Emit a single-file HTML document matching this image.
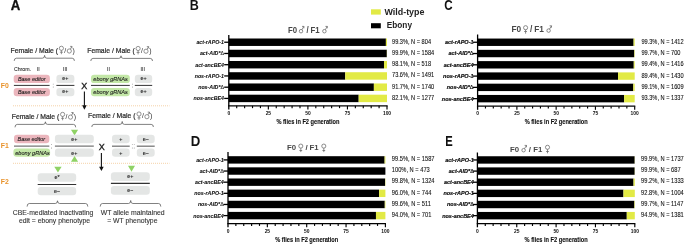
<!DOCTYPE html><html><head><meta charset="utf-8"><style>html,body{margin:0;padding:0;background:#fff;}svg{display:block;will-change:transform;}</style></head><body><svg width="685" height="244" viewBox="0 0 685 244">
<rect width="685" height="244" fill="#fff"/>
<g font-family='"Liberation Sans", sans-serif'>
<text transform="translate(10.8 10.4) scale(1.0 1.07)" font-size="13.2" font-weight="bold" font-style="normal" fill="#111" text-anchor="start" stroke="#111" stroke-width="0.3">A</text>
<text transform="translate(189.7 10.2) scale(0.95 1.05)" font-size="13.2" font-weight="bold" font-style="normal" fill="#111" text-anchor="start">B</text>
<text transform="translate(444.3 10.4) scale(0.88 1.1)" font-size="13.2" font-weight="bold" font-style="normal" fill="#111" text-anchor="start">C</text>
<text transform="translate(190.8 145.6) scale(1.0 1.07)" font-size="13.2" font-weight="bold" font-style="normal" fill="#111" text-anchor="start">D</text>
<text transform="translate(445.2 145.6) scale(0.85 1.07)" font-size="13.2" font-weight="bold" font-style="normal" fill="#111" text-anchor="start">E</text>
<rect x="371" y="9.3" width="9.8" height="5.3" fill="#e2ea45"/>
<rect x="371" y="23.2" width="9.8" height="5.1" fill="#000"/>
<text x="384.4" y="15.1" font-size="8.9" font-weight="bold" font-style="normal" fill="#222" text-anchor="start" textLength="40.1" lengthAdjust="spacingAndGlyphs">Wild-type</text>
<text x="386.8" y="28.0" font-size="8.9" font-weight="bold" font-style="normal" fill="#222" text-anchor="start" textLength="25.2" lengthAdjust="spacingAndGlyphs">Ebony</text>
<rect x="228.80" y="38.50" width="157.09" height="7.45" fill="#000"/>
<rect x="385.89" y="38.50" width="1.11" height="7.45" fill="#e2ea45"/>
<line x1="224.20" y1="42.23" x2="228.80" y2="42.23" stroke="#000" stroke-width="1.3"/>
<text transform="translate(392.0 43.68) scale(1.0 1.12)" font-size="5.65" font-weight="normal" font-style="normal" fill="#111" text-anchor="start" stroke="#111" stroke-width="0.08">99.3%, N = 804</text>
<text transform="translate(224.0 44.12) scale(1.0 1.06)" font-size="5.28" font-weight="bold" font-style="italic" fill="#111" text-anchor="end" stroke="#111" stroke-width="0.08">act-rAPO-1</text>
<rect x="228.80" y="49.74" width="158.04" height="7.45" fill="#000"/>
<rect x="386.84" y="49.74" width="0.16" height="7.45" fill="#e2ea45"/>
<line x1="224.20" y1="53.47" x2="228.80" y2="53.47" stroke="#000" stroke-width="1.3"/>
<text transform="translate(392.0 54.92) scale(1.0 1.12)" font-size="5.65" font-weight="normal" font-style="normal" fill="#111" text-anchor="start" stroke="#111" stroke-width="0.08">99.9%, N = 1584</text>
<text transform="translate(224.0 55.37) scale(1.0 1.06)" font-size="5.28" font-weight="bold" font-style="italic" fill="#111" text-anchor="end" stroke="#111" stroke-width="0.08">act-AID*<tspan font-weight="normal" font-style="normal">Δ</tspan></text>
<rect x="228.80" y="60.98" width="155.19" height="7.45" fill="#000"/>
<rect x="383.99" y="60.98" width="3.01" height="7.45" fill="#e2ea45"/>
<line x1="224.20" y1="64.70" x2="228.80" y2="64.70" stroke="#000" stroke-width="1.3"/>
<text transform="translate(392.0 66.16) scale(1.0 1.12)" font-size="5.65" font-weight="normal" font-style="normal" fill="#111" text-anchor="start" stroke="#111" stroke-width="0.08">98.1%, N = 518</text>
<text transform="translate(224.0 66.61) scale(1.0 1.06)" font-size="5.28" font-weight="bold" font-style="italic" fill="#111" text-anchor="end" stroke="#111" stroke-width="0.08">act-ancBE4</text>
<rect x="228.80" y="72.22" width="116.44" height="7.45" fill="#000"/>
<rect x="345.24" y="72.22" width="41.76" height="7.45" fill="#e2ea45"/>
<line x1="224.20" y1="75.94" x2="228.80" y2="75.94" stroke="#000" stroke-width="1.3"/>
<text transform="translate(392.0 77.39) scale(1.0 1.12)" font-size="5.65" font-weight="normal" font-style="normal" fill="#111" text-anchor="start" stroke="#111" stroke-width="0.08">73.6%, N = 1491</text>
<text transform="translate(224.0 77.84) scale(1.0 1.06)" font-size="5.28" font-weight="bold" font-style="italic" fill="#111" text-anchor="end" stroke="#111" stroke-width="0.08">nos-rAPO-1</text>
<rect x="228.80" y="83.46" width="145.07" height="7.45" fill="#000"/>
<rect x="373.87" y="83.46" width="13.13" height="7.45" fill="#e2ea45"/>
<line x1="224.20" y1="87.19" x2="228.80" y2="87.19" stroke="#000" stroke-width="1.3"/>
<text transform="translate(392.0 88.64) scale(1.0 1.12)" font-size="5.65" font-weight="normal" font-style="normal" fill="#111" text-anchor="start" stroke="#111" stroke-width="0.08">91.7%, N = 1740</text>
<text transform="translate(224.0 89.09) scale(1.0 1.06)" font-size="5.28" font-weight="bold" font-style="italic" fill="#111" text-anchor="end" stroke="#111" stroke-width="0.08">nos-AID*<tspan font-weight="normal" font-style="normal">Δ</tspan></text>
<rect x="228.80" y="94.70" width="129.88" height="7.45" fill="#000"/>
<rect x="358.68" y="94.70" width="28.32" height="7.45" fill="#e2ea45"/>
<line x1="224.20" y1="98.42" x2="228.80" y2="98.42" stroke="#000" stroke-width="1.3"/>
<text transform="translate(392.0 99.88) scale(1.0 1.12)" font-size="5.65" font-weight="normal" font-style="normal" fill="#111" text-anchor="start" stroke="#111" stroke-width="0.08">82.1%, N = 1277</text>
<text transform="translate(224.0 100.33) scale(1.0 1.06)" font-size="5.28" font-weight="bold" font-style="italic" fill="#111" text-anchor="end" stroke="#111" stroke-width="0.08">nos-ancBE4</text>
<line x1="228.80" y1="35.0" x2="228.80" y2="109.44999999999999" stroke="#000" stroke-width="1.3"/>
<line x1="228.15" y1="105.85" x2="387.60" y2="105.85" stroke="#000" stroke-width="1.3"/>
<line x1="236.71" y1="105.85" x2="236.71" y2="108.14999999999999" stroke="#000" stroke-width="1.15"/>
<line x1="244.62" y1="105.85" x2="244.62" y2="108.14999999999999" stroke="#000" stroke-width="1.15"/>
<line x1="252.53" y1="105.85" x2="252.53" y2="108.14999999999999" stroke="#000" stroke-width="1.15"/>
<line x1="260.44" y1="105.85" x2="260.44" y2="108.14999999999999" stroke="#000" stroke-width="1.15"/>
<line x1="268.35" y1="105.85" x2="268.35" y2="109.44999999999999" stroke="#000" stroke-width="1.15"/>
<line x1="276.26" y1="105.85" x2="276.26" y2="108.14999999999999" stroke="#000" stroke-width="1.15"/>
<line x1="284.17" y1="105.85" x2="284.17" y2="108.14999999999999" stroke="#000" stroke-width="1.15"/>
<line x1="292.08" y1="105.85" x2="292.08" y2="108.14999999999999" stroke="#000" stroke-width="1.15"/>
<line x1="299.99" y1="105.85" x2="299.99" y2="108.14999999999999" stroke="#000" stroke-width="1.15"/>
<line x1="307.90" y1="105.85" x2="307.90" y2="109.44999999999999" stroke="#000" stroke-width="1.15"/>
<line x1="315.81" y1="105.85" x2="315.81" y2="108.14999999999999" stroke="#000" stroke-width="1.15"/>
<line x1="323.72" y1="105.85" x2="323.72" y2="108.14999999999999" stroke="#000" stroke-width="1.15"/>
<line x1="331.63" y1="105.85" x2="331.63" y2="108.14999999999999" stroke="#000" stroke-width="1.15"/>
<line x1="339.54" y1="105.85" x2="339.54" y2="108.14999999999999" stroke="#000" stroke-width="1.15"/>
<line x1="347.45" y1="105.85" x2="347.45" y2="109.44999999999999" stroke="#000" stroke-width="1.15"/>
<line x1="355.36" y1="105.85" x2="355.36" y2="108.14999999999999" stroke="#000" stroke-width="1.15"/>
<line x1="363.27" y1="105.85" x2="363.27" y2="108.14999999999999" stroke="#000" stroke-width="1.15"/>
<line x1="371.18" y1="105.85" x2="371.18" y2="108.14999999999999" stroke="#000" stroke-width="1.15"/>
<line x1="379.09" y1="105.85" x2="379.09" y2="108.14999999999999" stroke="#000" stroke-width="1.15"/>
<line x1="387.00" y1="105.85" x2="387.00" y2="109.44999999999999" stroke="#000" stroke-width="1.15"/>
<text transform="translate(228.80 115.05) scale(0.93 1.1)" font-size="5.3" font-weight="bold" font-style="normal" fill="#111" text-anchor="middle">0</text>
<text transform="translate(268.35 115.05) scale(0.93 1.1)" font-size="5.3" font-weight="bold" font-style="normal" fill="#111" text-anchor="middle">25</text>
<text transform="translate(307.90 115.05) scale(0.93 1.1)" font-size="5.3" font-weight="bold" font-style="normal" fill="#111" text-anchor="middle">50</text>
<text transform="translate(347.45 115.05) scale(0.93 1.1)" font-size="5.3" font-weight="bold" font-style="normal" fill="#111" text-anchor="middle">75</text>
<text transform="translate(387.00 115.05) scale(0.93 1.1)" font-size="5.3" font-weight="bold" font-style="normal" fill="#111" text-anchor="middle">100</text>
<text transform="translate(307.90 123.95) scale(1.0 1.13)" font-size="5.66" font-weight="bold" font-style="normal" fill="#111" text-anchor="middle" stroke="#111" stroke-width="0.1">% flies in F2 generation</text>
<text transform="translate(288 32.6) scale(1.0 1.15)" font-size="7.8" font-weight="bold" font-style="normal" fill="#474747" text-anchor="start">F0</text>
<g fill="none" stroke="#666" stroke-width="0.75"><circle cx="301.00" cy="31.20" r="1.75"/><path d="M301.90,29.70 L303.90,26.40 M302.00,26.40 L303.90,26.40 L303.90,28.30"/></g>
<text transform="translate(306.5 32.6) scale(1.0 1.15)" font-size="7.8" font-weight="bold" font-style="normal" fill="#474747" text-anchor="start">/</text>
<text transform="translate(310.5 32.6) scale(1.0 1.15)" font-size="7.8" font-weight="bold" font-style="normal" fill="#474747" text-anchor="start">F1</text>
<g fill="none" stroke="#666" stroke-width="0.75"><circle cx="324.40" cy="31.20" r="1.75"/><path d="M325.30,29.70 L327.30,26.40 M325.40,26.40 L327.30,26.40 L327.30,28.30"/></g>
<rect x="477.60" y="38.55" width="156.00" height="7.4" fill="#000"/>
<rect x="633.60" y="38.55" width="1.10" height="7.4" fill="#e2ea45"/>
<line x1="473.00" y1="42.25" x2="477.60" y2="42.25" stroke="#000" stroke-width="1.3"/>
<text transform="translate(641.4 43.7) scale(1.0 1.12)" font-size="5.65" font-weight="normal" font-style="normal" fill="#111" text-anchor="start" stroke="#111" stroke-width="0.08">99.3%, N = 1412</text>
<text transform="translate(473.5 44.15) scale(1.04 1.05)" font-size="5.28" font-weight="bold" font-style="italic" fill="#111" text-anchor="end" stroke="#111" stroke-width="0.18">act-rAPO-1</text>
<rect x="477.60" y="49.83" width="156.63" height="7.4" fill="#000"/>
<rect x="634.23" y="49.83" width="0.47" height="7.4" fill="#e2ea45"/>
<line x1="473.00" y1="53.53" x2="477.60" y2="53.53" stroke="#000" stroke-width="1.3"/>
<text transform="translate(641.4 54.98) scale(1.0 1.12)" font-size="5.65" font-weight="normal" font-style="normal" fill="#111" text-anchor="start" stroke="#111" stroke-width="0.08">99.7%, N = 700</text>
<text transform="translate(473.5 55.43) scale(1.04 1.05)" font-size="5.28" font-weight="bold" font-style="italic" fill="#111" text-anchor="end" stroke="#111" stroke-width="0.18">act-AID*<tspan font-weight="normal" font-style="normal">Δ</tspan></text>
<rect x="477.60" y="61.11" width="156.16" height="7.4" fill="#000"/>
<rect x="633.76" y="61.11" width="0.94" height="7.4" fill="#e2ea45"/>
<line x1="473.00" y1="64.81" x2="477.60" y2="64.81" stroke="#000" stroke-width="1.3"/>
<text transform="translate(641.4 66.26) scale(1.0 1.12)" font-size="5.65" font-weight="normal" font-style="normal" fill="#111" text-anchor="start" stroke="#111" stroke-width="0.08">99.4%, N = 1416</text>
<text transform="translate(473.5 66.71) scale(1.04 1.05)" font-size="5.28" font-weight="bold" font-style="italic" fill="#111" text-anchor="end" stroke="#111" stroke-width="0.18">act-ancBE4</text>
<rect x="477.60" y="72.39" width="140.45" height="7.4" fill="#000"/>
<rect x="618.05" y="72.39" width="16.65" height="7.4" fill="#e2ea45"/>
<line x1="473.00" y1="76.09" x2="477.60" y2="76.09" stroke="#000" stroke-width="1.3"/>
<text transform="translate(641.4 77.54) scale(1.0 1.12)" font-size="5.65" font-weight="normal" font-style="normal" fill="#111" text-anchor="start" stroke="#111" stroke-width="0.08">89.4%, N = 1430</text>
<text transform="translate(473.5 77.99) scale(1.04 1.05)" font-size="5.28" font-weight="bold" font-style="italic" fill="#111" text-anchor="end" stroke="#111" stroke-width="0.18">nos-rAPO-1</text>
<rect x="477.60" y="83.67" width="155.69" height="7.4" fill="#000"/>
<rect x="633.29" y="83.67" width="1.41" height="7.4" fill="#e2ea45"/>
<line x1="473.00" y1="87.37" x2="477.60" y2="87.37" stroke="#000" stroke-width="1.3"/>
<text transform="translate(641.4 88.82) scale(1.0 1.12)" font-size="5.65" font-weight="normal" font-style="normal" fill="#111" text-anchor="start" stroke="#111" stroke-width="0.08">99.1%, N = 1609</text>
<text transform="translate(473.5 89.27) scale(1.04 1.05)" font-size="5.28" font-weight="bold" font-style="italic" fill="#111" text-anchor="end" stroke="#111" stroke-width="0.18">nos-AID*<tspan font-weight="normal" font-style="normal">Δ</tspan></text>
<rect x="477.60" y="94.95" width="146.57" height="7.4" fill="#000"/>
<rect x="624.17" y="94.95" width="10.53" height="7.4" fill="#e2ea45"/>
<line x1="473.00" y1="98.65" x2="477.60" y2="98.65" stroke="#000" stroke-width="1.3"/>
<text transform="translate(641.4 100.1) scale(1.0 1.12)" font-size="5.65" font-weight="normal" font-style="normal" fill="#111" text-anchor="start" stroke="#111" stroke-width="0.08">93.3%, N = 1337</text>
<text transform="translate(473.5 100.55) scale(1.04 1.05)" font-size="5.28" font-weight="bold" font-style="italic" fill="#111" text-anchor="end" stroke="#111" stroke-width="0.18">nos-ancBE4</text>
<line x1="477.60" y1="34.5" x2="477.60" y2="109.8" stroke="#000" stroke-width="1.3"/>
<line x1="476.95" y1="106.2" x2="635.30" y2="106.2" stroke="#000" stroke-width="1.3"/>
<line x1="485.46" y1="106.2" x2="485.46" y2="108.5" stroke="#000" stroke-width="1.15"/>
<line x1="493.31" y1="106.2" x2="493.31" y2="108.5" stroke="#000" stroke-width="1.15"/>
<line x1="501.17" y1="106.2" x2="501.17" y2="108.5" stroke="#000" stroke-width="1.15"/>
<line x1="509.02" y1="106.2" x2="509.02" y2="108.5" stroke="#000" stroke-width="1.15"/>
<line x1="516.88" y1="106.2" x2="516.88" y2="109.8" stroke="#000" stroke-width="1.15"/>
<line x1="524.73" y1="106.2" x2="524.73" y2="108.5" stroke="#000" stroke-width="1.15"/>
<line x1="532.59" y1="106.2" x2="532.59" y2="108.5" stroke="#000" stroke-width="1.15"/>
<line x1="540.44" y1="106.2" x2="540.44" y2="108.5" stroke="#000" stroke-width="1.15"/>
<line x1="548.30" y1="106.2" x2="548.30" y2="108.5" stroke="#000" stroke-width="1.15"/>
<line x1="556.15" y1="106.2" x2="556.15" y2="109.8" stroke="#000" stroke-width="1.15"/>
<line x1="564.00" y1="106.2" x2="564.00" y2="108.5" stroke="#000" stroke-width="1.15"/>
<line x1="571.86" y1="106.2" x2="571.86" y2="108.5" stroke="#000" stroke-width="1.15"/>
<line x1="579.72" y1="106.2" x2="579.72" y2="108.5" stroke="#000" stroke-width="1.15"/>
<line x1="587.57" y1="106.2" x2="587.57" y2="108.5" stroke="#000" stroke-width="1.15"/>
<line x1="595.43" y1="106.2" x2="595.43" y2="109.8" stroke="#000" stroke-width="1.15"/>
<line x1="603.28" y1="106.2" x2="603.28" y2="108.5" stroke="#000" stroke-width="1.15"/>
<line x1="611.13" y1="106.2" x2="611.13" y2="108.5" stroke="#000" stroke-width="1.15"/>
<line x1="618.99" y1="106.2" x2="618.99" y2="108.5" stroke="#000" stroke-width="1.15"/>
<line x1="626.85" y1="106.2" x2="626.85" y2="108.5" stroke="#000" stroke-width="1.15"/>
<line x1="634.70" y1="106.2" x2="634.70" y2="109.8" stroke="#000" stroke-width="1.15"/>
<text transform="translate(477.60 115.4) scale(0.93 1.1)" font-size="5.3" font-weight="bold" font-style="normal" fill="#111" text-anchor="middle">0</text>
<text transform="translate(516.88 115.4) scale(0.93 1.1)" font-size="5.3" font-weight="bold" font-style="normal" fill="#111" text-anchor="middle">25</text>
<text transform="translate(556.15 115.4) scale(0.93 1.1)" font-size="5.3" font-weight="bold" font-style="normal" fill="#111" text-anchor="middle">50</text>
<text transform="translate(595.43 115.4) scale(0.93 1.1)" font-size="5.3" font-weight="bold" font-style="normal" fill="#111" text-anchor="middle">75</text>
<text transform="translate(634.70 115.4) scale(0.93 1.1)" font-size="5.3" font-weight="bold" font-style="normal" fill="#111" text-anchor="middle">100</text>
<text transform="translate(556.15 124.3) scale(1.0 1.13)" font-size="5.66" font-weight="bold" font-style="normal" fill="#111" text-anchor="middle" stroke="#111" stroke-width="0.1">% flies in F2 generation</text>
<text transform="translate(511.5 32.0) scale(1.0 1.08)" font-size="8.3" font-weight="bold" font-style="normal" fill="#474747" text-anchor="start">F0</text>
<g fill="none" stroke="#666" stroke-width="0.75"><circle cx="525.60" cy="27.70" r="2.05"/><path d="M525.60,29.75 L525.60,33.70 M524.20,31.50 L527.00,31.50"/></g>
<text transform="translate(530.1 32.0) scale(1.0 1.08)" font-size="8.3" font-weight="bold" font-style="normal" fill="#474747" text-anchor="start">/</text>
<text transform="translate(534.2 32.0) scale(1.0 1.08)" font-size="8.3" font-weight="bold" font-style="normal" fill="#474747" text-anchor="start">F1</text>
<g fill="none" stroke="#666" stroke-width="0.75"><circle cx="548.60" cy="30.60" r="1.75"/><path d="M549.50,29.10 L551.50,25.80 M549.60,25.80 L551.50,25.80 L551.50,27.70"/></g>
<rect x="228.00" y="156.20" width="156.61" height="7.4" fill="#000"/>
<rect x="384.61" y="156.20" width="0.79" height="7.4" fill="#e2ea45"/>
<line x1="223.40" y1="159.90" x2="228.00" y2="159.90" stroke="#000" stroke-width="1.3"/>
<text transform="translate(391.8 161.1) scale(1.0 1.12)" font-size="5.72" font-weight="normal" font-style="normal" fill="#111" text-anchor="start" stroke="#111" stroke-width="0.08">99.5%, N = 1587</text>
<text transform="translate(223.7 161.8) scale(1.0 1.06)" font-size="5.28" font-weight="bold" font-style="italic" fill="#111" text-anchor="end" stroke="#111" stroke-width="0.08">act-rAPO-1</text>
<rect x="228.00" y="167.34" width="157.40" height="7.4" fill="#000"/>
<line x1="223.40" y1="171.04" x2="228.00" y2="171.04" stroke="#000" stroke-width="1.3"/>
<text transform="translate(391.8 172.24) scale(1.0 1.12)" font-size="5.72" font-weight="normal" font-style="normal" fill="#111" text-anchor="start" stroke="#111" stroke-width="0.08">100%, N = 473</text>
<text transform="translate(223.7 172.94) scale(1.0 1.06)" font-size="5.28" font-weight="bold" font-style="italic" fill="#111" text-anchor="end" stroke="#111" stroke-width="0.08">act-AID*<tspan font-weight="normal" font-style="normal">Δ</tspan></text>
<rect x="228.00" y="178.48" width="157.09" height="7.4" fill="#000"/>
<rect x="385.09" y="178.48" width="0.31" height="7.4" fill="#e2ea45"/>
<line x1="223.40" y1="182.18" x2="228.00" y2="182.18" stroke="#000" stroke-width="1.3"/>
<text transform="translate(391.8 183.38) scale(1.0 1.12)" font-size="5.72" font-weight="normal" font-style="normal" fill="#111" text-anchor="start" stroke="#111" stroke-width="0.08">99.8%, N = 1324</text>
<text transform="translate(223.7 184.08) scale(1.0 1.06)" font-size="5.28" font-weight="bold" font-style="italic" fill="#111" text-anchor="end" stroke="#111" stroke-width="0.08">act-ancBE4</text>
<rect x="228.00" y="189.62" width="151.10" height="7.4" fill="#000"/>
<rect x="379.10" y="189.62" width="6.30" height="7.4" fill="#e2ea45"/>
<line x1="223.40" y1="193.32" x2="228.00" y2="193.32" stroke="#000" stroke-width="1.3"/>
<text transform="translate(391.8 194.52) scale(1.0 1.12)" font-size="5.72" font-weight="normal" font-style="normal" fill="#111" text-anchor="start" stroke="#111" stroke-width="0.08">96.0%, N = 744</text>
<text transform="translate(223.7 195.22) scale(1.0 1.06)" font-size="5.28" font-weight="bold" font-style="italic" fill="#111" text-anchor="end" stroke="#111" stroke-width="0.08">nos-rAPO-1</text>
<rect x="228.00" y="200.76" width="156.77" height="7.4" fill="#000"/>
<rect x="384.77" y="200.76" width="0.63" height="7.4" fill="#e2ea45"/>
<line x1="223.40" y1="204.46" x2="228.00" y2="204.46" stroke="#000" stroke-width="1.3"/>
<text transform="translate(391.8 205.66) scale(1.0 1.12)" font-size="5.72" font-weight="normal" font-style="normal" fill="#111" text-anchor="start" stroke="#111" stroke-width="0.08">99.6%, N = 511</text>
<text transform="translate(223.7 206.36) scale(1.0 1.06)" font-size="5.28" font-weight="bold" font-style="italic" fill="#111" text-anchor="end" stroke="#111" stroke-width="0.08">nos-AID*<tspan font-weight="normal" font-style="normal">Δ</tspan></text>
<rect x="228.00" y="211.90" width="147.96" height="7.4" fill="#000"/>
<rect x="375.96" y="211.90" width="9.44" height="7.4" fill="#e2ea45"/>
<line x1="223.40" y1="215.60" x2="228.00" y2="215.60" stroke="#000" stroke-width="1.3"/>
<text transform="translate(391.8 216.8) scale(1.0 1.12)" font-size="5.72" font-weight="normal" font-style="normal" fill="#111" text-anchor="start" stroke="#111" stroke-width="0.08">94.0%, N = 701</text>
<text transform="translate(223.7 217.5) scale(1.0 1.06)" font-size="5.28" font-weight="bold" font-style="italic" fill="#111" text-anchor="end" stroke="#111" stroke-width="0.08">nos-ancBE4</text>
<line x1="228.00" y1="152.0" x2="228.00" y2="227.2" stroke="#000" stroke-width="1.3"/>
<line x1="227.35" y1="223.6" x2="386.00" y2="223.6" stroke="#000" stroke-width="1.3"/>
<line x1="235.87" y1="223.6" x2="235.87" y2="225.9" stroke="#000" stroke-width="1.15"/>
<line x1="243.74" y1="223.6" x2="243.74" y2="225.9" stroke="#000" stroke-width="1.15"/>
<line x1="251.61" y1="223.6" x2="251.61" y2="225.9" stroke="#000" stroke-width="1.15"/>
<line x1="259.48" y1="223.6" x2="259.48" y2="225.9" stroke="#000" stroke-width="1.15"/>
<line x1="267.35" y1="223.6" x2="267.35" y2="227.2" stroke="#000" stroke-width="1.15"/>
<line x1="275.22" y1="223.6" x2="275.22" y2="225.9" stroke="#000" stroke-width="1.15"/>
<line x1="283.09" y1="223.6" x2="283.09" y2="225.9" stroke="#000" stroke-width="1.15"/>
<line x1="290.96" y1="223.6" x2="290.96" y2="225.9" stroke="#000" stroke-width="1.15"/>
<line x1="298.83" y1="223.6" x2="298.83" y2="225.9" stroke="#000" stroke-width="1.15"/>
<line x1="306.70" y1="223.6" x2="306.70" y2="227.2" stroke="#000" stroke-width="1.15"/>
<line x1="314.57" y1="223.6" x2="314.57" y2="225.9" stroke="#000" stroke-width="1.15"/>
<line x1="322.44" y1="223.6" x2="322.44" y2="225.9" stroke="#000" stroke-width="1.15"/>
<line x1="330.31" y1="223.6" x2="330.31" y2="225.9" stroke="#000" stroke-width="1.15"/>
<line x1="338.18" y1="223.6" x2="338.18" y2="225.9" stroke="#000" stroke-width="1.15"/>
<line x1="346.05" y1="223.6" x2="346.05" y2="227.2" stroke="#000" stroke-width="1.15"/>
<line x1="353.92" y1="223.6" x2="353.92" y2="225.9" stroke="#000" stroke-width="1.15"/>
<line x1="361.79" y1="223.6" x2="361.79" y2="225.9" stroke="#000" stroke-width="1.15"/>
<line x1="369.66" y1="223.6" x2="369.66" y2="225.9" stroke="#000" stroke-width="1.15"/>
<line x1="377.53" y1="223.6" x2="377.53" y2="225.9" stroke="#000" stroke-width="1.15"/>
<line x1="385.40" y1="223.6" x2="385.40" y2="227.2" stroke="#000" stroke-width="1.15"/>
<text transform="translate(228.00 232.8) scale(0.93 1.1)" font-size="5.3" font-weight="bold" font-style="normal" fill="#111" text-anchor="middle">0</text>
<text transform="translate(267.35 232.8) scale(0.93 1.1)" font-size="5.3" font-weight="bold" font-style="normal" fill="#111" text-anchor="middle">25</text>
<text transform="translate(306.70 232.8) scale(0.93 1.1)" font-size="5.3" font-weight="bold" font-style="normal" fill="#111" text-anchor="middle">50</text>
<text transform="translate(346.05 232.8) scale(0.93 1.1)" font-size="5.3" font-weight="bold" font-style="normal" fill="#111" text-anchor="middle">75</text>
<text transform="translate(385.40 232.8) scale(0.93 1.1)" font-size="5.3" font-weight="bold" font-style="normal" fill="#111" text-anchor="middle">100</text>
<text transform="translate(306.70 241.7) scale(1.0 1.13)" font-size="5.66" font-weight="bold" font-style="normal" fill="#111" text-anchor="middle" stroke="#111" stroke-width="0.1">% flies in F2 generation</text>
<text transform="translate(287 150.4) scale(1.0 1.03)" font-size="7.8" font-weight="bold" font-style="normal" fill="#474747" text-anchor="start">F0</text>
<g fill="none" stroke="#666" stroke-width="0.75"><circle cx="300.80" cy="146.10" r="2.05"/><path d="M300.80,148.15 L300.80,152.10 M299.40,150.50 L302.20,150.50"/></g>
<text transform="translate(305.4 150.4) scale(1.0 1.03)" font-size="7.8" font-weight="bold" font-style="normal" fill="#474747" text-anchor="start">/</text>
<text transform="translate(309.6 150.4) scale(1.0 1.03)" font-size="7.8" font-weight="bold" font-style="normal" fill="#474747" text-anchor="start">F1</text>
<g fill="none" stroke="#666" stroke-width="0.75"><circle cx="323.80" cy="146.10" r="2.05"/><path d="M323.80,148.15 L323.80,152.10 M322.40,150.50 L325.20,150.50"/></g>
<rect x="477.40" y="156.25" width="157.24" height="7.4" fill="#000"/>
<rect x="634.64" y="156.25" width="0.16" height="7.4" fill="#e2ea45"/>
<line x1="472.80" y1="159.95" x2="477.40" y2="159.95" stroke="#000" stroke-width="1.3"/>
<text transform="translate(641.1 161.15) scale(1.0 1.12)" font-size="5.72" font-weight="normal" font-style="normal" fill="#111" text-anchor="start" stroke="#111" stroke-width="0.08">99.9%, N = 1737</text>
<text transform="translate(473.8 161.85) scale(1.04 1.05)" font-size="5.28" font-weight="bold" font-style="italic" fill="#111" text-anchor="end" stroke="#111" stroke-width="0.18">act-rAPO-1</text>
<rect x="477.40" y="167.39" width="157.24" height="7.4" fill="#000"/>
<rect x="634.64" y="167.39" width="0.16" height="7.4" fill="#e2ea45"/>
<line x1="472.80" y1="171.09" x2="477.40" y2="171.09" stroke="#000" stroke-width="1.3"/>
<text transform="translate(641.1 172.29) scale(1.0 1.12)" font-size="5.72" font-weight="normal" font-style="normal" fill="#111" text-anchor="start" stroke="#111" stroke-width="0.08">99.9%, N = 687</text>
<text transform="translate(473.8 172.99) scale(1.04 1.05)" font-size="5.28" font-weight="bold" font-style="italic" fill="#111" text-anchor="end" stroke="#111" stroke-width="0.18">act-AID*<tspan font-weight="normal" font-style="normal">Δ</tspan></text>
<rect x="477.40" y="178.53" width="156.14" height="7.4" fill="#000"/>
<rect x="633.54" y="178.53" width="1.26" height="7.4" fill="#e2ea45"/>
<line x1="472.80" y1="182.23" x2="477.40" y2="182.23" stroke="#000" stroke-width="1.3"/>
<text transform="translate(641.1 183.43) scale(1.0 1.12)" font-size="5.72" font-weight="normal" font-style="normal" fill="#111" text-anchor="start" stroke="#111" stroke-width="0.08">99.2%, N = 1333</text>
<text transform="translate(473.8 184.13) scale(1.04 1.05)" font-size="5.28" font-weight="bold" font-style="italic" fill="#111" text-anchor="end" stroke="#111" stroke-width="0.18">act-ancBE4</text>
<rect x="477.40" y="189.67" width="146.07" height="7.4" fill="#000"/>
<rect x="623.47" y="189.67" width="11.33" height="7.4" fill="#e2ea45"/>
<line x1="472.80" y1="193.37" x2="477.40" y2="193.37" stroke="#000" stroke-width="1.3"/>
<text transform="translate(641.1 194.57) scale(1.0 1.12)" font-size="5.72" font-weight="normal" font-style="normal" fill="#111" text-anchor="start" stroke="#111" stroke-width="0.08">92.8%, N = 1004</text>
<text transform="translate(473.8 195.27) scale(1.04 1.05)" font-size="5.28" font-weight="bold" font-style="italic" fill="#111" text-anchor="end" stroke="#111" stroke-width="0.18">nos-rAPO-1</text>
<rect x="477.40" y="200.81" width="156.93" height="7.4" fill="#000"/>
<rect x="634.33" y="200.81" width="0.47" height="7.4" fill="#e2ea45"/>
<line x1="472.80" y1="204.51" x2="477.40" y2="204.51" stroke="#000" stroke-width="1.3"/>
<text transform="translate(641.1 205.71) scale(1.0 1.12)" font-size="5.72" font-weight="normal" font-style="normal" fill="#111" text-anchor="start" stroke="#111" stroke-width="0.08">99.7%, N = 1147</text>
<text transform="translate(473.8 206.41) scale(1.04 1.05)" font-size="5.28" font-weight="bold" font-style="italic" fill="#111" text-anchor="end" stroke="#111" stroke-width="0.18">nos-AID*<tspan font-weight="normal" font-style="normal">Δ</tspan></text>
<rect x="477.40" y="211.95" width="149.37" height="7.4" fill="#000"/>
<rect x="626.77" y="211.95" width="8.03" height="7.4" fill="#e2ea45"/>
<line x1="472.80" y1="215.65" x2="477.40" y2="215.65" stroke="#000" stroke-width="1.3"/>
<text transform="translate(641.1 216.85) scale(1.0 1.12)" font-size="5.72" font-weight="normal" font-style="normal" fill="#111" text-anchor="start" stroke="#111" stroke-width="0.08">94.9%, N = 1381</text>
<text transform="translate(473.8 217.55) scale(1.04 1.05)" font-size="5.28" font-weight="bold" font-style="italic" fill="#111" text-anchor="end" stroke="#111" stroke-width="0.18">nos-ancBE4</text>
<line x1="477.40" y1="152.5" x2="477.40" y2="227.29999999999998" stroke="#000" stroke-width="1.3"/>
<line x1="476.75" y1="223.7" x2="635.40" y2="223.7" stroke="#000" stroke-width="1.3"/>
<line x1="485.27" y1="223.7" x2="485.27" y2="226.0" stroke="#000" stroke-width="1.15"/>
<line x1="493.14" y1="223.7" x2="493.14" y2="226.0" stroke="#000" stroke-width="1.15"/>
<line x1="501.01" y1="223.7" x2="501.01" y2="226.0" stroke="#000" stroke-width="1.15"/>
<line x1="508.88" y1="223.7" x2="508.88" y2="226.0" stroke="#000" stroke-width="1.15"/>
<line x1="516.75" y1="223.7" x2="516.75" y2="227.29999999999998" stroke="#000" stroke-width="1.15"/>
<line x1="524.62" y1="223.7" x2="524.62" y2="226.0" stroke="#000" stroke-width="1.15"/>
<line x1="532.49" y1="223.7" x2="532.49" y2="226.0" stroke="#000" stroke-width="1.15"/>
<line x1="540.36" y1="223.7" x2="540.36" y2="226.0" stroke="#000" stroke-width="1.15"/>
<line x1="548.23" y1="223.7" x2="548.23" y2="226.0" stroke="#000" stroke-width="1.15"/>
<line x1="556.10" y1="223.7" x2="556.10" y2="227.29999999999998" stroke="#000" stroke-width="1.15"/>
<line x1="563.97" y1="223.7" x2="563.97" y2="226.0" stroke="#000" stroke-width="1.15"/>
<line x1="571.84" y1="223.7" x2="571.84" y2="226.0" stroke="#000" stroke-width="1.15"/>
<line x1="579.71" y1="223.7" x2="579.71" y2="226.0" stroke="#000" stroke-width="1.15"/>
<line x1="587.58" y1="223.7" x2="587.58" y2="226.0" stroke="#000" stroke-width="1.15"/>
<line x1="595.45" y1="223.7" x2="595.45" y2="227.29999999999998" stroke="#000" stroke-width="1.15"/>
<line x1="603.32" y1="223.7" x2="603.32" y2="226.0" stroke="#000" stroke-width="1.15"/>
<line x1="611.19" y1="223.7" x2="611.19" y2="226.0" stroke="#000" stroke-width="1.15"/>
<line x1="619.06" y1="223.7" x2="619.06" y2="226.0" stroke="#000" stroke-width="1.15"/>
<line x1="626.93" y1="223.7" x2="626.93" y2="226.0" stroke="#000" stroke-width="1.15"/>
<line x1="634.80" y1="223.7" x2="634.80" y2="227.29999999999998" stroke="#000" stroke-width="1.15"/>
<text transform="translate(477.40 232.9) scale(0.93 1.1)" font-size="5.3" font-weight="bold" font-style="normal" fill="#111" text-anchor="middle">0</text>
<text transform="translate(516.75 232.9) scale(0.93 1.1)" font-size="5.3" font-weight="bold" font-style="normal" fill="#111" text-anchor="middle">25</text>
<text transform="translate(556.10 232.9) scale(0.93 1.1)" font-size="5.3" font-weight="bold" font-style="normal" fill="#111" text-anchor="middle">50</text>
<text transform="translate(595.45 232.9) scale(0.93 1.1)" font-size="5.3" font-weight="bold" font-style="normal" fill="#111" text-anchor="middle">75</text>
<text transform="translate(634.80 232.9) scale(0.93 1.1)" font-size="5.3" font-weight="bold" font-style="normal" fill="#111" text-anchor="middle">100</text>
<text transform="translate(556.10 241.8) scale(1.0 1.13)" font-size="5.66" font-weight="bold" font-style="normal" fill="#111" text-anchor="middle" stroke="#111" stroke-width="0.1">% flies in F2 generation</text>
<text transform="translate(510 151.6) scale(1.0 1.03)" font-size="7.8" font-weight="bold" font-style="normal" fill="#474747" text-anchor="start">F0</text>
<g fill="none" stroke="#666" stroke-width="0.75"><circle cx="523.60" cy="150.20" r="1.75"/><path d="M524.50,148.70 L526.50,145.40 M524.60,145.40 L526.50,145.40 L526.50,147.30"/></g>
<text transform="translate(528.7 151.6) scale(1.0 1.03)" font-size="7.8" font-weight="bold" font-style="normal" fill="#474747" text-anchor="start">/</text>
<text transform="translate(533.2 151.6) scale(1.0 1.03)" font-size="7.8" font-weight="bold" font-style="normal" fill="#474747" text-anchor="start">F1</text>
<g fill="none" stroke="#666" stroke-width="0.75"><circle cx="547.50" cy="147.30" r="2.05"/><path d="M547.50,149.35 L547.50,153.30 M546.10,151.50 L548.90,151.50"/></g>
<line x1="13" y1="105.8" x2="169.5" y2="105.8" stroke="#f6d2a8" stroke-width="1" stroke-dasharray="1,1"/>
<line x1="13" y1="163.3" x2="169.5" y2="163.3" stroke="#f6d2a8" stroke-width="1" stroke-dasharray="1,1"/>
<text transform="translate(10.5 52.7) scale(1.0 1.1)" font-size="6.85" font-weight="normal" font-style="normal" fill="#2a2a2a" text-anchor="start" stroke="#2a2a2a" stroke-width="0.2">Female / Male (</text>
<g fill="none" stroke="#666" stroke-width="0.7"><circle cx="61.40" cy="48.30" r="2.10"/><path d="M61.40,50.40 L61.40,54.20 M59.90,52.20 L62.90,52.20"/></g>
<text transform="translate(64.3 52.7) scale(1.0 1.1)" font-size="6.85" font-weight="normal" font-style="normal" fill="#2a2a2a" text-anchor="start">/</text>
<g fill="none" stroke="#666" stroke-width="0.7"><circle cx="69.30" cy="51.00" r="2.10"/><path d="M70.33,49.17 L71.90,46.40 M70.10,46.40 L71.90,46.40 L71.90,48.20"/></g>
<text transform="translate(72.5 52.7) scale(1.0 1.1)" font-size="6.85" font-weight="normal" font-style="normal" fill="#2a2a2a" text-anchor="start">)</text>
<text transform="translate(87.2 52.9) scale(1.0 1.1)" font-size="6.85" font-weight="normal" font-style="normal" fill="#2a2a2a" text-anchor="start" stroke="#2a2a2a" stroke-width="0.2">Female / Male (</text>
<g fill="none" stroke="#666" stroke-width="0.7"><circle cx="138.10" cy="48.50" r="2.10"/><path d="M138.10,50.60 L138.10,54.40 M136.60,52.40 L139.60,52.40"/></g>
<text transform="translate(141.0 52.9) scale(1.0 1.1)" font-size="6.85" font-weight="normal" font-style="normal" fill="#2a2a2a" text-anchor="start">/</text>
<g fill="none" stroke="#666" stroke-width="0.7"><circle cx="146.00" cy="51.20" r="2.10"/><path d="M147.03,49.37 L148.60,46.60 M146.80,46.60 L148.60,46.60 L148.60,48.40"/></g>
<text transform="translate(149.2 52.9) scale(1.0 1.1)" font-size="6.85" font-weight="normal" font-style="normal" fill="#2a2a2a" text-anchor="start">)</text>
<path d="M14.2,60.9 Q14.2,58.2 16.4,58.2 L42.4,58.2 Q44.6,58.2 44.6,55.4 Q44.6,58.2 46.800000000000004,58.2 L72.2,58.2 Q74.4,58.2 74.4,60.9" fill="none" stroke="#4a4a4a" stroke-width="0.7"/>
<path d="M90.8,61.0 Q90.8,58.4 93.0,58.4 L118.8,58.4 Q121.0,58.4 121.0,55.8 Q121.0,58.4 123.2,58.4 L150.3,58.4 Q152.5,58.4 152.5,61.0" fill="none" stroke="#4a4a4a" stroke-width="0.7"/>
<text transform="translate(13.9 71.4) scale(1.0 1.1)" font-size="5.25" font-weight="normal" font-style="normal" fill="#333" text-anchor="start" stroke="#333" stroke-width="0.1">Chrom.</text>
<text transform="translate(36.9 71.4) scale(1.0 1.1)" font-size="5.25" font-weight="normal" font-style="normal" fill="#333" text-anchor="start" stroke="#333" stroke-width="0.1">II</text>
<text transform="translate(63.1 71.4) scale(1.0 1.1)" font-size="5.25" font-weight="normal" font-style="normal" fill="#333" text-anchor="start" stroke="#333" stroke-width="0.1">III</text>
<text transform="translate(107.0 71.4) scale(1.0 1.1)" font-size="5.25" font-weight="normal" font-style="normal" fill="#333" text-anchor="start" stroke="#333" stroke-width="0.1">II</text>
<text transform="translate(140.6 71.4) scale(1.0 1.1)" font-size="5.25" font-weight="normal" font-style="normal" fill="#333" text-anchor="start" stroke="#333" stroke-width="0.1">III</text>
<text transform="translate(0.7 87.7) scale(1.0 1.1)" font-size="6.85" font-weight="bold" font-style="normal" fill="#e8922a" text-anchor="start">F0</text>
<rect x="13.7" y="74.7" width="36.20" height="8.40" rx="3.2" fill="#ebb6bd"/>
<rect x="13.7" y="87.9" width="36.20" height="8.30" rx="3.2" fill="#ebb6bd"/>
<line x1="13.9" y1="85.4" x2="49.6" y2="85.4" stroke="#333" stroke-width="1.0"/>
<text transform="translate(17.9 80.6) scale(1.0 1.1)" font-size="5.48" font-weight="normal" font-style="italic" fill="#1a1a1a" text-anchor="start" stroke="#1a1a1a" stroke-width="0.1">Base editor</text>
<text transform="translate(17.9 93.8) scale(1.0 1.1)" font-size="5.48" font-weight="normal" font-style="italic" fill="#1a1a1a" text-anchor="start" stroke="#1a1a1a" stroke-width="0.1">Base editor</text>
<circle cx="53.2" cy="84.1" r="0.45" fill="#555"/><circle cx="53.2" cy="87.0" r="0.45" fill="#555"/>
<rect x="56.4" y="74.7" width="18.00" height="8.40" rx="3.2" fill="#e4e6e5"/>
<rect x="56.4" y="87.9" width="18.00" height="8.30" rx="3.2" fill="#e4e6e5"/>
<line x1="56.4" y1="85.4" x2="74.4" y2="85.4" stroke="#333" stroke-width="1.0"/>
<text transform="translate(65.3 80.2) scale(1.0 1.1)" font-size="5.4" font-weight="normal" font-style="normal" fill="#1a1a1a" text-anchor="middle" stroke="#1a1a1a" stroke-width="0.1">e+</text>
<text transform="translate(65.3 93.4) scale(1.0 1.1)" font-size="5.4" font-weight="normal" font-style="normal" fill="#1a1a1a" text-anchor="middle" stroke="#1a1a1a" stroke-width="0.1">e+</text>
<text x="81.3" y="88.8" font-size="9.0" font-weight="normal" font-style="normal" fill="#222" text-anchor="start" stroke="#222" stroke-width="0.35">X</text>
<line x1="84.4" y1="91.5" x2="84.4" y2="105.8" stroke="#111" stroke-width="1.1"/>
<path d="M82.10000000000001,105.3 L86.7,105.3 L84.4,109.7 Z" fill="#111"/>
<rect x="91.0" y="74.7" width="38.80" height="8.40" rx="3.2" fill="#c3e7a7"/>
<rect x="91.0" y="87.9" width="38.80" height="8.30" rx="3.2" fill="#c3e7a7"/>
<line x1="91.0" y1="85.4" x2="129.8" y2="85.4" stroke="#333" stroke-width="1.0"/>
<text transform="translate(93.3 80.8) scale(1.0 1.1)" font-size="5.62" font-weight="normal" font-style="italic" fill="#1a1a1a" text-anchor="start" stroke="#1a1a1a" stroke-width="0.1">ebony gRNAs</text>
<text transform="translate(93.3 94.0) scale(1.0 1.1)" font-size="5.62" font-weight="normal" font-style="italic" fill="#1a1a1a" text-anchor="start" stroke="#1a1a1a" stroke-width="0.1">ebony gRNAs</text>
<circle cx="132.4" cy="84.1" r="0.45" fill="#555"/><circle cx="132.4" cy="87.0" r="0.45" fill="#555"/>
<rect x="134.8" y="74.7" width="17.40" height="8.40" rx="3.2" fill="#e4e6e5"/>
<rect x="134.8" y="87.9" width="17.40" height="8.30" rx="3.2" fill="#e4e6e5"/>
<line x1="134.8" y1="85.4" x2="152.2" y2="85.4" stroke="#333" stroke-width="1.0"/>
<text transform="translate(143.5 80.2) scale(1.0 1.1)" font-size="5.4" font-weight="normal" font-style="normal" fill="#1a1a1a" text-anchor="middle" stroke="#1a1a1a" stroke-width="0.1">e+</text>
<text transform="translate(143.5 93.4) scale(1.0 1.1)" font-size="5.4" font-weight="normal" font-style="normal" fill="#1a1a1a" text-anchor="middle" stroke="#1a1a1a" stroke-width="0.1">e+</text>
<text transform="translate(11.7 118.8) scale(1.0 1.1)" font-size="6.85" font-weight="normal" font-style="normal" fill="#2a2a2a" text-anchor="start" stroke="#2a2a2a" stroke-width="0.2">Female / Male (</text>
<g fill="none" stroke="#666" stroke-width="0.7"><circle cx="62.60" cy="114.40" r="2.10"/><path d="M62.60,116.50 L62.60,120.30 M61.10,118.30 L64.10,118.30"/></g>
<text transform="translate(65.5 118.8) scale(1.0 1.1)" font-size="6.85" font-weight="normal" font-style="normal" fill="#2a2a2a" text-anchor="start">/</text>
<g fill="none" stroke="#666" stroke-width="0.7"><circle cx="70.50" cy="117.10" r="2.10"/><path d="M71.53,115.27 L73.10,112.50 M71.30,112.50 L73.10,112.50 L73.10,114.30"/></g>
<text transform="translate(73.7 118.8) scale(1.0 1.1)" font-size="6.85" font-weight="normal" font-style="normal" fill="#2a2a2a" text-anchor="start">)</text>
<text transform="translate(88.1 118.4) scale(1.0 1.1)" font-size="6.85" font-weight="normal" font-style="normal" fill="#2a2a2a" text-anchor="start" stroke="#2a2a2a" stroke-width="0.2">Female / Male (</text>
<g fill="none" stroke="#666" stroke-width="0.7"><circle cx="139.00" cy="114.00" r="2.10"/><path d="M139.00,116.10 L139.00,119.90 M137.50,117.90 L140.50,117.90"/></g>
<text transform="translate(141.89999999999998 118.4) scale(1.0 1.1)" font-size="6.85" font-weight="normal" font-style="normal" fill="#2a2a2a" text-anchor="start">/</text>
<g fill="none" stroke="#666" stroke-width="0.7"><circle cx="146.90" cy="116.70" r="2.10"/><path d="M147.93,114.87 L149.50,112.10 M147.70,112.10 L149.50,112.10 L149.50,113.90"/></g>
<text transform="translate(150.1 118.4) scale(1.0 1.1)" font-size="6.85" font-weight="normal" font-style="normal" fill="#2a2a2a" text-anchor="start">)</text>
<path d="M15.0,127.3 Q15.0,124.4 17.2,124.4 L43.199999999999996,124.4 Q45.4,124.4 45.4,121.8 Q45.4,124.4 47.6,124.4 L73.5,124.4 Q75.7,124.4 75.7,127.3" fill="none" stroke="#4a4a4a" stroke-width="0.7"/>
<path d="M91.8,127.0 Q91.8,124.4 94.0,124.4 L120.0,124.4 Q122.2,124.4 122.2,121.5 Q122.2,124.4 124.4,124.4 L151.20000000000002,124.4 Q153.4,124.4 153.4,127.0" fill="none" stroke="#4a4a4a" stroke-width="0.7"/>
<text transform="translate(0.7 147.7) scale(1.0 1.1)" font-size="6.85" font-weight="bold" font-style="normal" fill="#e8922a" text-anchor="start">F1</text>
<path d="M71.0,129.8 L78.1,129.8 L74.55,135.6 Z" fill="#8fd265"/>
<rect x="14.0" y="134.8" width="35.30" height="8.50" rx="3.2" fill="#ebb6bd"/>
<text transform="translate(17.5 140.7) scale(1.0 1.1)" font-size="5.48" font-weight="normal" font-style="italic" fill="#1a1a1a" text-anchor="start" stroke="#1a1a1a" stroke-width="0.1">Base editor</text>
<line x1="14.0" y1="146.2" x2="49.3" y2="146.2" stroke="#777" stroke-width="1.3"/>
<rect x="13.4" y="148.5" width="36.70" height="8.30" rx="3.2" fill="#c3e7a7"/>
<text transform="translate(15.2 154.6) scale(1.0 1.1)" font-size="5.62" font-weight="normal" font-style="italic" fill="#1a1a1a" text-anchor="start" stroke="#1a1a1a" stroke-width="0.1">ebony gRNAs</text>
<circle cx="51.6" cy="144.6" r="0.45" fill="#555"/><circle cx="51.6" cy="148.0" r="0.45" fill="#555"/>
<rect x="54.9" y="134.8" width="38.90" height="8.50" rx="3.2" fill="#e4e6e5"/>
<rect x="54.9" y="148.5" width="38.90" height="8.30" rx="3.2" fill="#e4e6e5"/>
<line x1="54.9" y1="146.2" x2="93.8" y2="146.2" stroke="#777" stroke-width="1.3"/>
<text transform="translate(74.4 140.7) scale(1.0 1.1)" font-size="5.4" font-weight="normal" font-style="normal" fill="#1a1a1a" text-anchor="middle" stroke="#1a1a1a" stroke-width="0.1">e+</text>
<text transform="translate(74.4 154.5) scale(1.0 1.1)" font-size="5.4" font-weight="normal" font-style="normal" fill="#1a1a1a" text-anchor="middle" stroke="#1a1a1a" stroke-width="0.1">e+</text>
<path d="M71.0,161.7 L78.1,161.7 L74.55,156.1 Z" fill="#8fd265"/>
<text transform="translate(98.7 150.1) scale(1.0 1.05)" font-size="9.0" font-weight="normal" font-style="normal" fill="#222" text-anchor="start" stroke="#222" stroke-width="0.35">X</text>
<line x1="101.4" y1="153.0" x2="101.4" y2="167.2" stroke="#111" stroke-width="1.1"/>
<path d="M99.10000000000001,166.7 L103.7,166.7 L101.4,171.1 Z" fill="#111"/>
<rect x="112.0" y="134.8" width="17.70" height="8.50" rx="3.2" fill="#e4e6e5"/>
<rect x="112.0" y="148.5" width="17.70" height="8.30" rx="3.2" fill="#e4e6e5"/>
<line x1="112.0" y1="146.2" x2="129.7" y2="146.2" stroke="#777" stroke-width="1.3"/>
<text transform="translate(120.9 140.7) scale(1.0 1.1)" font-size="5.4" font-weight="normal" font-style="normal" fill="#1a1a1a" text-anchor="middle" stroke="#1a1a1a" stroke-width="0.1">+</text>
<text transform="translate(120.9 154.5) scale(1.0 1.1)" font-size="5.4" font-weight="normal" font-style="normal" fill="#1a1a1a" text-anchor="middle" stroke="#1a1a1a" stroke-width="0.1">+</text>
<circle cx="132.3" cy="144.6" r="0.4" fill="#555"/><circle cx="132.3" cy="148.0" r="0.4" fill="#555"/>
<circle cx="134.2" cy="144.6" r="0.4" fill="#555"/><circle cx="134.2" cy="148.0" r="0.4" fill="#555"/>
<rect x="136.8" y="134.8" width="17.90" height="8.50" rx="3.2" fill="#e4e6e5"/>
<rect x="136.8" y="148.5" width="17.90" height="8.30" rx="3.2" fill="#e4e6e5"/>
<line x1="136.8" y1="146.2" x2="154.7" y2="146.2" stroke="#777" stroke-width="1.3"/>
<text transform="translate(145.7 140.7) scale(1.0 1.1)" font-size="5.4" font-weight="normal" font-style="normal" fill="#1a1a1a" text-anchor="middle" stroke="#1a1a1a" stroke-width="0.1">e−</text>
<text transform="translate(145.7 154.5) scale(1.0 1.1)" font-size="5.4" font-weight="normal" font-style="normal" fill="#1a1a1a" text-anchor="middle" stroke="#1a1a1a" stroke-width="0.1">e−</text>
<text transform="translate(0.7 183.9) scale(1.0 1.1)" font-size="6.85" font-weight="bold" font-style="normal" fill="#e8922a" text-anchor="start">F2</text>
<path d="M54.3,166.7 L61.6,166.7 L57.95,172.5 Z" fill="#8fd265"/>
<rect x="37.7" y="173.3" width="38.50" height="8.40" rx="3.2" fill="#e4e6e5"/>
<rect x="37.7" y="187.0" width="38.50" height="8.20" rx="3.2" fill="#e4e6e5"/>
<line x1="37.7" y1="184.5" x2="76.2" y2="184.5" stroke="#333" stroke-width="1.1"/>
<text transform="translate(57.0 179.3) scale(1.0 1.1)" font-size="5.4" font-weight="normal" font-style="normal" fill="#1a1a1a" text-anchor="middle" stroke="#1a1a1a" stroke-width="0.1">e*</text>
<text transform="translate(57.0 193.0) scale(1.0 1.1)" font-size="5.4" font-weight="normal" font-style="normal" fill="#1a1a1a" text-anchor="middle" stroke="#1a1a1a" stroke-width="0.1">e−</text>
<path d="M128.0,165.8 L135.0,165.8 L131.5,171.8 Z" fill="#8fd265"/>
<rect x="110.9" y="172.3" width="38.90" height="8.70" rx="3.2" fill="#e4e6e5"/>
<rect x="110.9" y="185.9" width="38.90" height="8.90" rx="3.2" fill="#e4e6e5"/>
<line x1="110.9" y1="183.4" x2="149.8" y2="183.4" stroke="#333" stroke-width="1.1"/>
<text transform="translate(130.4 178.4) scale(1.0 1.1)" font-size="5.4" font-weight="normal" font-style="normal" fill="#1a1a1a" text-anchor="middle" stroke="#1a1a1a" stroke-width="0.1">e+</text>
<text transform="translate(130.4 192.2) scale(1.0 1.1)" font-size="5.4" font-weight="normal" font-style="normal" fill="#1a1a1a" text-anchor="middle" stroke="#1a1a1a" stroke-width="0.1">e−</text>
<path d="M27.1,206.6 Q27.1,203.5 29.3,203.5 L55.3,203.5 Q57.5,203.5 57.5,200.8 Q57.5,203.5 59.7,203.5 L85.6,203.5 Q87.8,203.5 87.8,206.6" fill="none" stroke="#4a4a4a" stroke-width="0.7"/>
<path d="M100.2,206.6 Q100.2,203.5 102.4,203.5 L128.5,203.5 Q130.7,203.5 130.7,200.5 Q130.7,203.5 132.89999999999998,203.5 L158.60000000000002,203.5 Q160.8,203.5 160.8,206.6" fill="none" stroke="#4a4a4a" stroke-width="0.7"/>
<text x="12.8" y="215.1" font-size="6.88" font-weight="normal" font-style="normal" fill="#333" text-anchor="start" textLength="80.6" lengthAdjust="spacingAndGlyphs" stroke="#333" stroke-width="0.1">CBE-mediated inactivating</text>
<text x="18.9" y="222.8" font-size="6.84" font-weight="normal" font-style="normal" fill="#333" text-anchor="start" stroke="#333" stroke-width="0.1">edit = ebony phenotype</text>
<text x="100.7" y="215.0" font-size="6.86" font-weight="normal" font-style="normal" fill="#333" text-anchor="start" stroke="#333" stroke-width="0.1">WT allele maintained</text>
<text x="107.2" y="222.8" font-size="6.85" font-weight="normal" font-style="normal" fill="#333" text-anchor="start" stroke="#333" stroke-width="0.1">= WT phenotype</text>
</g></svg></body></html>
